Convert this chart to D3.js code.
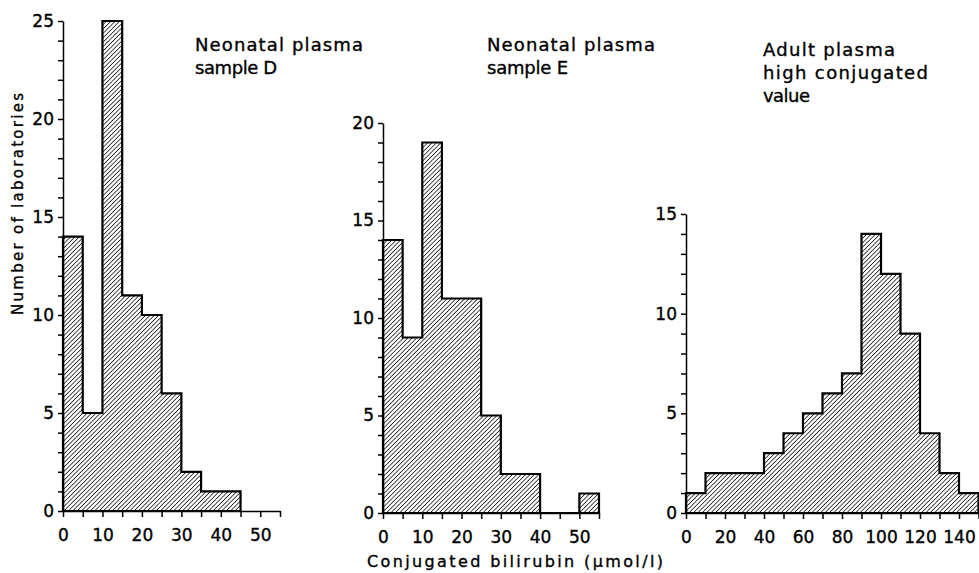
<!DOCTYPE html>
<html>
<head>
<meta charset="utf-8">
<script src="https://cdn.jsdelivr.net/npm/d3@7"></script>
<style>
  body { margin: 0; background: #fff; }
  svg { display: block; font-family: "DejaVu Sans", sans-serif; }
  svg text { fill: #000; stroke: #000; stroke-width: 0.35; }
  .axis path, .axis line { stroke: #000; stroke-width: 1.5; }
  .axis text { font-size: 17px; font-family: "DejaVu Sans", sans-serif; }
</style>
</head>
<body>
<div id="chart-area"></div>
<script>
const width = 979, height = 573;

// Counts of laboratories per bin (bins start at 0)
const sampleD = [14, 5, 25, 11, 10, 6, 2, 1, 1];           // bin width 5
const sampleE = [14, 9, 19, 11, 11, 5, 2, 2, 0, 0, 1];     // bin width 5
const adultHigh = [1, 2, 2, 2, 3, 4, 5, 6, 7, 14, 12, 9, 4, 2, 1]; // bin width 10

const titleD = ["Neonatal plasma", "sample D"];
const titleE = ["Neonatal plasma", "sample E"];
const titleAdult = ["Adult plasma", "high conjugated", "value"];

const yLabel = "Number of laboratories";
const xLabel = "Conjugated bilirubin (\u00b5mol/l)";

// Panel layout
const panels = [
    {counts: sampleD, binWidth: 5, xMax: 55, yMax: 25, xTick: 5, xLabelStep: 10, xLabelMax: 50,
     xRange: [63, 280], yRange: [511, 21],
     title: titleD, titleX: 195, titleY: 51, titleLen: [168, 82]},
    {counts: sampleE, binWidth: 5, xMax: 55, yMax: 20, xTick: 5, xLabelStep: 10, xLabelMax: 50,
     xRange: [383, 599], yRange: [513, 123],
     title: titleE, titleX: 487, titleY: 51, titleLen: [168, 81]},
    {counts: adultHigh, binWidth: 10, xMax: 150, yMax: 15, xTick: 10, xLabelStep: 20, xLabelMax: 140,
     xRange: [686, 978.5], yRange: [513, 214],
     title: titleAdult, titleX: 763, titleY: 56, titleLen: [132, 165, 47]}
];

const svg = d3.select("#chart-area").append("svg")
    .attr("width", width)
    .attr("height", height);

// Hatch pattern
const defs = svg.append("defs");
defs.append("pattern")
    .attr("id", "hatch")
    .attr("patternUnits", "userSpaceOnUse")
    .attr("width", 3.1)
    .attr("height", 3.1)
    .attr("patternTransform", "rotate(45)")
    .append("line")
    .attr("x1", 0).attr("y1", 0)
    .attr("x2", 0).attr("y2", 3.1)
    .attr("stroke", "#000")
    .attr("stroke-width", 1.4);

panels.forEach((p) => {
    const x = d3.scaleLinear().domain([0, p.xMax]).range(p.xRange);
    const y = d3.scaleLinear().domain([0, p.yMax]).range(p.yRange);

    // Step outline of the histogram
    const pts = [[0, 0]];
    p.counts.forEach((v, i) => {
        pts.push([i * p.binWidth, v]);
        pts.push([(i + 1) * p.binWidth, v]);
    });
    pts.push([p.counts.length * p.binWidth, 0]);

    const line = d3.line()
        .x(d => x(d[0]))
        .y(d => y(d[1]));

    svg.append("path")
        .attr("d", line(pts) + "Z")
        .attr("fill", "url(#hatch)")
        .attr("stroke", "#000")
        .attr("stroke-width", 2.2)
        .attr("stroke-linejoin", "miter");

    svg.append("g")
        .attr("class", "axis")
        .attr("transform", `translate(0,${p.yRange[0]})`)
        .call(d3.axisBottom(x)
            .tickValues(d3.range(0, p.xMax + 0.01, p.xTick))
            .tickFormat(d => (d % p.xLabelStep === 0 && d <= p.xLabelMax) ? d : "")
            .tickSize(6)
            .tickPadding(8)
            .tickSizeOuter(0))
        .call(g => g.selectAll("text").attr("dy", "0.95em"));

    svg.append("g")
        .attr("class", "axis")
        .attr("transform", `translate(${p.xRange[0]},0)`)
        .call(d3.axisLeft(y)
            .tickValues(d3.range(0, p.yMax + 1))
            .tickFormat(d => d % 5 === 0 ? d : "")
            .tickSize(5)
            .tickPadding(4)
            .tickSizeOuter(0));

    const t = svg.append("g").attr("font-size", 18);
    p.title.forEach((s, i) => {
        t.append("text")
            .attr("x", p.titleX)
            .attr("y", p.titleY + i * 23)
            .attr("textLength", p.titleLen[i])
            .attr("lengthAdjust", "spacing")
            .text(s);
    });
});

// Axis titles
svg.append("text")
    .attr("transform", "translate(23,204) rotate(-90)")
    .attr("text-anchor", "middle")
    .attr("font-size", 15)
    .attr("textLength", 222)
    .attr("lengthAdjust", "spacing")
    .text(yLabel);

svg.append("text")
    .attr("x", 367)
    .attr("y", 567)
    .attr("font-size", 16)
    .attr("textLength", 296)
    .attr("lengthAdjust", "spacing")
    .text(xLabel);
</script>
</body>
</html>
